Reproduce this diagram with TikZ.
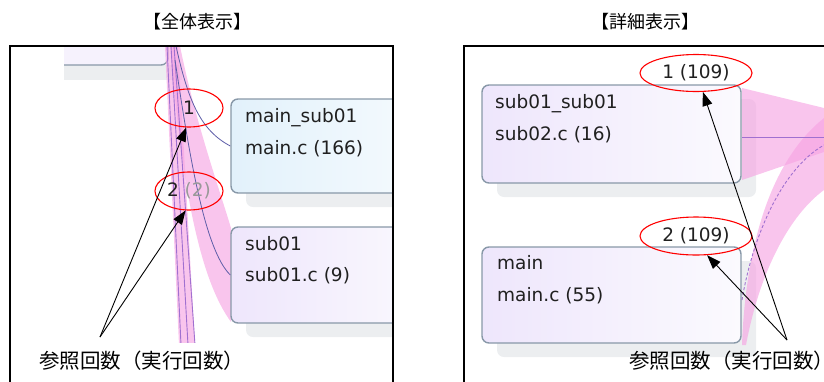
\documentclass[tikz,border=0pt]{standalone}
\usepackage{fontspec}
\setmainfont{DejaVu Sans}
\newfontfamily\jp{Noto Sans CJK JP}
\usetikzlibrary{arrows.meta,shapes.geometric,shadows}
\definecolor{boxedge}{HTML}{8898A8}
\definecolor{shadowc}{HTML}{ECEEF0}
\definecolor{lavL}{HTML}{EEE6FC}
\definecolor{lavR}{HTML}{FBFAFE}
\definecolor{bluL}{HTML}{E2F1FB}
\definecolor{bluR}{HTML}{F6FBFE}
\definecolor{pinkc}{HTML}{F6A2E2}
\definecolor{purpc}{HTML}{A070D0}
\definecolor{bluec}{HTML}{5E5EA8}
\definecolor{txtc}{HTML}{202020}
\tikzset{
  fbox/.style={draw=boxedge, line width=1.4pt, rounded corners=7pt, inner sep=0pt,
     general shadow={fill=shadowc, shadow xshift=15pt, shadow yshift=-14pt}},
  boxtext/.style={anchor=base west, inner sep=0pt, text=txtc, font=\fontsize{18.5}{20}\selectfont},
  redell/.style={ellipse, draw=red, line width=1.1pt, inner sep=0pt, text=txtc,
     font=\fontsize{18.5}{20}\selectfont},
  band/.style={fill=pinkc, fill opacity=0.62},
  pline/.style={draw=purpc, line width=0.9pt},
  bline/.style={draw=bluec, line width=0.8pt},
  callout/.style={draw=black, line width=0.9pt, -{Triangle[length=14pt,width=10pt]}},
  jplabel/.style={font=\jp\fontsize{20.5}{22}\selectfont, inner sep=0pt},
  frameline/.style={draw=black, line width=2pt}
}
\begin{document}
\begin{tikzpicture}[x=1pt,y=-1pt]
\useasboundingbox (0,0) rectangle (824,381);
\clip (0,0) rectangle (824,381);

% ---------------- titles
\node[font=\jp\fontsize{18}{19}\selectfont] (t1) at (197,22) {【全体表示】};
\node[font=\jp\fontsize{18}{19}\selectfont] (t2) at (645,22) {【詳細表示】};

% ---------------- left panel
\begin{scope}
\clip (64,46) rectangle (393,381);
\fill[shadowc] (64,65) rectangle (182,80);
\node[draw=boxedge, line width=1.4pt, rounded corners=7pt, fill=lavR!60!lavL,
      minimum width=140pt, minimum height=60pt] (top) at (98,35) {};
\end{scope}
\begin{scope}
\clip (11,46) rectangle (392,342);
% bands
\fill[band] (165,46) -- (178,46) -- (195,345) -- (179,345) -- cycle;
\fill[band] (180,46) .. controls (195,120) and (218,185) .. (231,228)
   -- (231,322) .. controls (202,282) and (183,200) .. (170,46) -- cycle;
\draw[pline] (167,46) -- (181,345);
\draw[pline] (171,46) -- (188,345);
\draw[pline] (174,46) -- (195,345);
\end{scope}
\begin{scope}
\clip (11,46) rectangle (392,381);
\node[fbox, left color=bluL, right color=bluR, minimum width=200pt, minimum height=94pt]
   (msub) at (331,146) {};
\node[fbox, left color=lavL, right color=lavR, minimum width=200pt, minimum height=96pt]
   (sub) at (331,275) {};
\draw[bline] (176,46) .. controls (188,100) and (200,130) .. (msub.west);
\draw[bline] (175,60) .. controls (190,160) and (205,250) .. (sub.west);
\node[boxtext] (msubA) at (245,122) {main\_sub01};
\node[boxtext] (msubB) at (245,154) {main.c (166)};
\node[boxtext] (subA) at (245,250) {sub01};
\node[boxtext] (subB) at (245,281) {sub01.c (9)};
\end{scope}
\node[redell, minimum width=68pt, minimum height=38pt] (e1) at (189,108) {1};
\node[redell, minimum width=68pt, minimum height=38pt] (e2) at (189,191) {2 \textcolor{gray!80}{(2)}};
\coordinate (pL) at (100,337);
\draw[callout] (pL) -- (e1.-98);
\draw[callout] (pL) -- (e2.-100);
\node[jplabel, anchor=west] (labL) at (39,361) {参照回数（実行回数）};
\draw[frameline] (10,382) -- (10,46) -- (393,46) -- (393,382);

% ---------------- right panel
\begin{scope}
\clip (465,47) rectangle (824,381);
\node[fbox, left color=lavL, right color=lavR, minimum width=259pt, minimum height=98pt]
   (ss) at (611.5,134) {};
\node[fbox, left color=lavL, right color=lavR, minimum width=259pt, minimum height=96pt]
   (mn) at (611.5,295) {};
\fill[band] (742,88) -- (824,108) -- (824,152) -- (742,180) -- cycle;
\fill[band] (742,345) .. controls (745,260) and (765,165) .. (824,118)
   -- (824,190) .. controls (790,215) and (760,270) .. (746,345) -- cycle;
\draw[pline] (742,137) -- (824,137);
\draw[draw=purpc, line width=0.9pt, densely dashed] (742,300) .. controls (752,240) and (780,170) .. (824,145);
\node[boxtext] (ssA) at (495,108) {sub01\_sub01};
\node[boxtext] (ssB) at (495,140) {sub02.c (16)};
\node[boxtext] (mnA) at (497,269) {main};
\node[boxtext] (mnB) at (497,301) {main.c (55)};
\node[redell, minimum width=112pt, minimum height=37pt] (e3) at (696,73) {1 (109)};
\node[redell, minimum width=112pt, minimum height=38pt] (e4) at (696,236) {2 (109)};
\coordinate (pR) at (787,340);
\draw[callout] (pR) -- (e3.-70);
\draw[callout] (pR) -- (e4.-60);
\node[jplabel, anchor=west] (labR) at (629,361) {参照回数（実行回数）};
\end{scope}
\draw[frameline] (464,382) -- (464,46) -- (826,46);
\end{tikzpicture}
\end{document}
